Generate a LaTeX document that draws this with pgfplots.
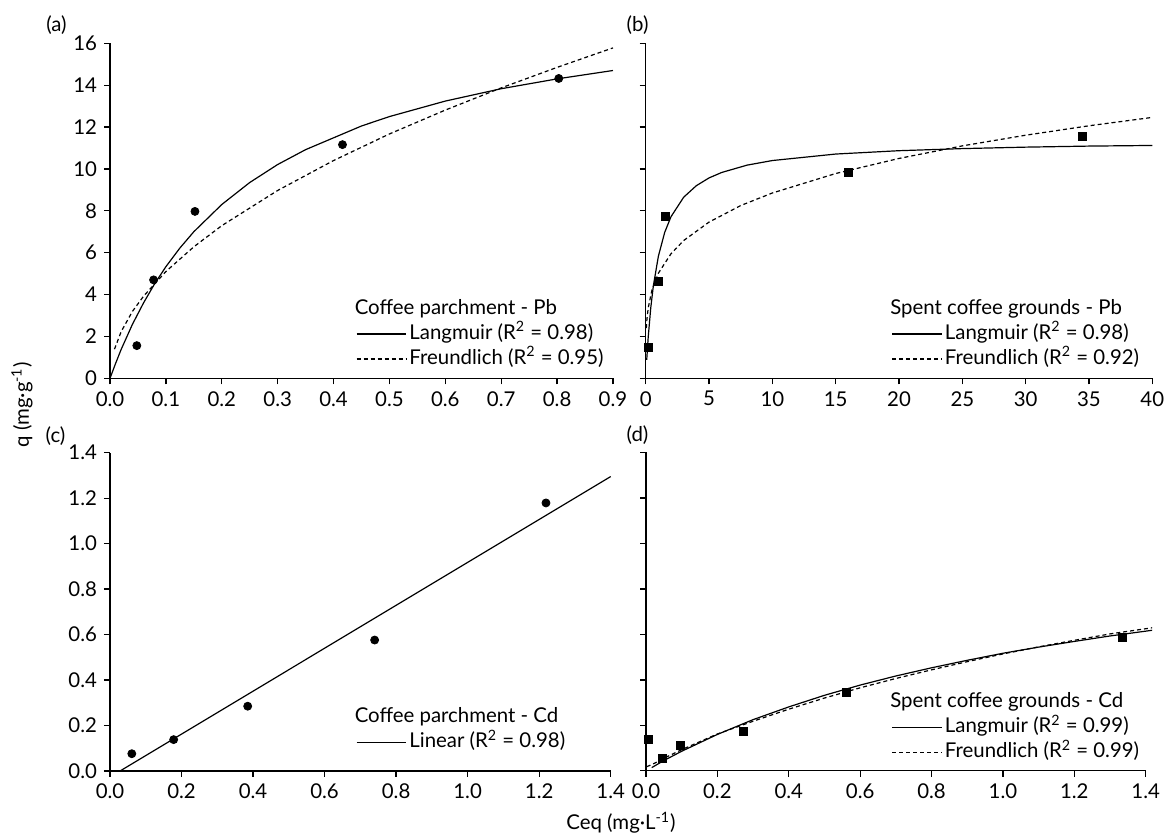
\documentclass[border=0pt]{standalone}
\usepackage{fontspec}
\setmainfont{Lato}
\usepackage{pgfplots}
\pgfplotsset{compat=1.18}

\newcommand{\lbl}{\fontsize{10.2}{12.2}\selectfont}

\pgfplotsset{
  panel/.style={
    scale only axis,
    axis lines=left,
    axis line style={-, line width=0.65pt},
    enlargelimits=false,
    tick align=outside,
    major tick length=3pt,
    tick style={line width=0.65pt, black},
    every tick label/.append style={font=\lbl},
    /pgf/number format/assume math mode=true,
    legend cell align=left,
    legend image code/.code={\draw[##1] (0pt,0pt) -- (24.8pt,0pt);},
    legend style={draw=none, fill=none, inner sep=0pt, column sep=0pt,
      row sep=0pt, font=\lbl, anchor=south west,
      nodes={inner sep=1.25pt, text height=7.6pt, text depth=2.4pt}},
    clip=false,
  },
  onedec/.style={/pgf/number format/.cd, fixed, fixed zerofill, precision=1},
  fitl/.style={black, line width=0.6pt, no markers},
  fitd/.style={black, line width=0.6pt, no markers, dash pattern=on 2pt off 1.5pt},
  dots/.style={only marks, mark=*, mark size=2pt, black},
  sqs/.style={only marks, mark=square*, mark size=2pt, black},
}

\newcommand{\ttl}[1]{\addlegendimage{empty legend}\addlegendentry{\hspace{-27.3pt}#1}}

\begin{document}
\begin{tikzpicture}
\path[use as bounding box] (0,0) rectangle (583.5pt,417pt);

% (a) coffee parchment - Pb
\begin{axis}[panel, at={(55pt,227.85pt)}, anchor=south west,
  width=251.5pt, height=167.5pt,
  xmin=0, xmax=0.9, ymin=0, ymax=16,
  xtick={0,0.1,...,0.9}, ytick={0,2,...,16},
  xticklabel style={onedec},
  legend style={at={(0.4885,0.019)}}]
\ttl{Coffee parchment - Pb}
\addplot[fitl] coordinates {(0,0) (0.01,0.71) (0.02,1.38) (0.04,2.57) (0.06,3.60)
  (0.08,4.52) (0.1,5.33) (0.125,6.22) (0.15,7.00) (0.2,8.30) (0.25,9.35)
  (0.3,10.21) (0.35,10.92) (0.45,12.05) (0.5,12.50) (0.6,13.24) (0.7,13.83)
  (0.8,14.30) (0.9,14.70)};
\addlegendentry{Langmuir (R\textsuperscript{2} = 0.98)}
\addplot[fitd] coordinates {(0.008,1.39) (0.02,2.23) (0.04,3.19) (0.06,3.92)
  (0.1,5.10) (0.15,6.28) (0.2,7.29) (0.3,8.97) (0.4,10.40) (0.5,11.67)
  (0.6,12.81) (0.7,13.87) (0.8,14.85) (0.9,15.78)};
\addlegendentry{Freundlich (R\textsuperscript{2} = 0.95)}
\addplot[dots, forget plot] coordinates {(0.048,1.56) (0.078,4.70) (0.152,7.97)
  (0.416,11.16) (0.803,14.32)};
\end{axis}

% (b) spent coffee grounds - Pb
\begin{axis}[panel, at={(322.85pt,227.85pt)}, anchor=south west,
  width=253.3pt, height=167.5pt,
  xmin=0, xmax=40, ymin=0, ymax=16,
  xtick={0,5,...,40}, ytick={0,2,...,16}, yticklabels={},
  legend style={at={(0.4846,0.019)}}]
\ttl{Spent coffee grounds - Pb}
\addplot[fitl] coordinates {(0.08,0.88) (0.2,1.98) (0.4,3.37) (0.6,4.40) (1,5.83)
  (1.5,6.97) (2,7.72) (3,8.65) (4,9.20) (5,9.57) (6,9.83) (8,10.18) (10,10.40)
  (15,10.71) (20,10.87) (25,10.97) (30,11.04) (35,11.09) (40,11.12)};
\addlegendentry{Langmuir (R\textsuperscript{2} = 0.98)}
\addplot[fitd] coordinates {(0.05,2.40) (0.1,2.84) (0.2,3.37) (0.5,4.23) (1,5.02)
  (2,5.95) (3,6.58) (5,7.46) (7.5,8.25) (10,8.85) (15,9.78) (20,10.50)
  (25,11.10) (30,11.61) (35,12.06) (40,12.46)};
\addlegendentry{Freundlich (R\textsuperscript{2} = 0.92)}
\addplot[sqs, forget plot] coordinates {(0.24,1.48) (1.03,4.63) (1.59,7.74)
  (16.03,9.84) (34.48,11.56)};
\end{axis}

% (c) coffee parchment - Cd
\begin{axis}[panel, at={(55pt,31.5pt)}, anchor=south west,
  width=250.35pt, height=159.15pt,
  xmin=0, xmax=1.4, ymin=0, ymax=1.4,
  xtick={0,0.2,...,1.4}, ytick={0,0.2,...,1.4},
  xticklabel style={onedec}, yticklabel style={onedec},
  legend style={at={(0.4907,0.0496)}}]
\ttl{Coffee parchment - Cd}
\addplot[fitl] coordinates {(0.028,0) (1.4,1.295)};
\addlegendentry{Linear (R\textsuperscript{2} = 0.98)}
\addplot[dots, forget plot] coordinates {(0.061,0.076) (0.178,0.138) (0.385,0.285)
  (0.74,0.576) (1.219,1.179)};
\end{axis}

% (d) spent coffee grounds - Cd
\begin{axis}[panel, at={(323pt,31.6pt)}, anchor=south west,
  width=249.85pt, height=159.15pt,
  xmin=0, xmax=1.4, ymin=0, ymax=1.4,
  xtick={0,0.2,...,1.4}, ytick={0,0.2,...,1.4}, yticklabels={},
  xticklabel style={onedec},
  legend style={at={(0.4907,0.018)}}]
\ttl{Spent coffee grounds - Cd}
\addplot[fitl] coordinates {(0.016,0.014) (0.05,0.045) (0.1,0.086) (0.2,0.160)
  (0.3,0.225) (0.4,0.281) (0.5,0.332) (0.6,0.377) (0.7,0.417) (0.8,0.453)
  (0.9,0.486) (1.0,0.517) (1.1,0.544) (1.2,0.569) (1.3,0.593) (1.418,0.618)};
\addlegendentry{Langmuir (R\textsuperscript{2} = 0.99)}
\addplot[fitd] coordinates {(0.002,0.018) (0.02,0.030) (0.05,0.055) (0.1,0.093)
  (0.2,0.162) (0.3,0.218) (0.4,0.271) (0.5,0.320) (0.6,0.365) (0.7,0.406)
  (0.8,0.444) (0.9,0.480) (1.0,0.514) (1.1,0.545) (1.2,0.574) (1.3,0.602)
  (1.418,0.629)};
\addlegendentry{Freundlich (R\textsuperscript{2} = 0.99)}
\addplot[sqs, forget plot] coordinates {(0.008,0.140) (0.045,0.055) (0.097,0.112)
  (0.273,0.172) (0.562,0.344) (1.336,0.587)};
\end{axis}

\node[font=\lbl] at (28.25pt,404.5pt) {(a)};
\node[font=\lbl] at (318.8pt,404.5pt) {(b)};
\node[font=\lbl] at (27.75pt,199pt) {(c)};
\node[font=\lbl] at (318.75pt,199.5pt) {(d)};
\node[font=\lbl, rotate=90] at (11pt,214.5pt) {q (mg·g\textsuperscript{-1})};
\node[font=\lbl] at (310.5pt,5.5pt) {Ceq (mg·L\textsuperscript{-1})};
\end{tikzpicture}
\end{document}
